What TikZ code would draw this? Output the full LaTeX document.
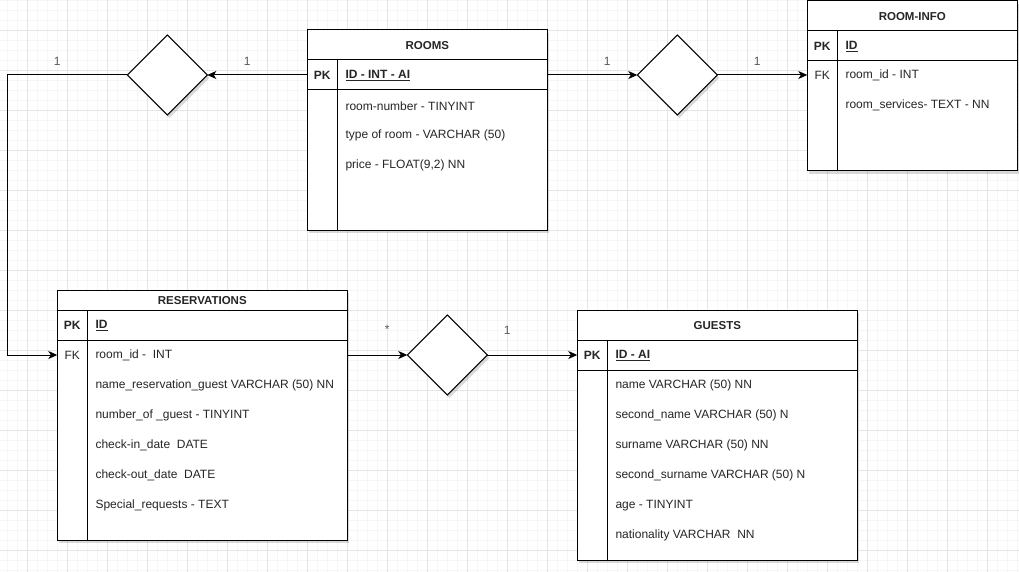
\documentclass[tikz,border=0pt]{standalone}
\usepackage{fontspec}
\setmainfont{Liberation Sans}
\usetikzlibrary{shapes.geometric,arrows.meta,shadows}
\begin{document}
\begin{tikzpicture}[x=1pt,y=-1pt,
  every node/.style={font=\fontsize{12}{14}\selectfont, text=black!85, inner sep=0pt},
  txt/.style={yshift=-0.8pt},
  minorgrid/.style={draw=black!3.5, line width=0.6pt},
  majorgrid/.style={draw=black!10, line width=0.8pt},
  shad/.style={drop shadow={shadow xshift=2pt,shadow yshift=-3pt,opacity=0.15,fill=black}},
  tbl/.style={draw=black, line width=1pt, fill=white, rectangle, anchor=north west, outer sep=0pt, shad},
  rel/.style={draw=black, line width=1pt, fill=white, diamond, minimum width=80pt, minimum height=80pt, outer sep=0pt, shad},
  hdr/.style={txt, font=\fontsize{11.5}{14}\selectfont\bfseries},
  keyb/.style={txt, font=\fontsize{12}{14}\selectfont\bfseries},
  keyr/.style={txt},
  fld/.style={txt, anchor=west},
  fldb/.style={txt, anchor=west, font=\fontsize{12}{14}\selectfont\bfseries},
  sep/.style={line width=1pt},
  conn/.style={line width=1pt, -{Stealth[length=9pt,width=8pt,inset=2.5pt]}},
  card/.style={txt, text=black!65}
]
\useasboundingbox (0,0) rectangle (1019,572);
\fill[white] (0,0) rectangle (1019,572);
% grid
\foreach \i in {0,...,101} \draw[minorgrid] ({7.3+10*\i},0) -- ({7.3+10*\i},572);
\foreach \j in {0,...,57} \draw[minorgrid] (0,{10*\j}) -- (1019,{10*\j});
\foreach \i in {0,...,24} \draw[majorgrid] ({27.3+40*\i},0) -- ({27.3+40*\i},572);
\foreach \j in {0,...,13} \draw[majorgrid] (0,{30+40*\j}) -- (1019,{30+40*\j});

% ROOMS
\node[tbl, minimum width=240pt, minimum height=200pt] (rooms) at (307.3,30) {};
\draw[sep] (307.3,60) -- (547.3,60);
\draw[sep] (307.3,90) -- (547.3,90);
\draw[sep] (337.3,60) -- (337.3,230);
\node[hdr] (roomsT) at (427.3,45) {ROOMS};
\node[keyb] (roomsPK) at (322.3,75) {PK};
\node[fldb] (roomsId) at (345.3,75) {\underline{ID - INT - AI}};
\node[fld] (roomsF1) at (345.3,105) {room-number - TINYINT};
\node[fld] (roomsF2) at (345.3,135) {type of room - VARCHAR (50)};
\node[fld] (roomsF3) at (345.3,165) {price - FLOAT(9,2) NN};
\coordinate (roomsRow) at (322.3,75);

% ROOM-INFO
\node[tbl, minimum width=210pt, minimum height=170pt] (info) at (807.3,0.8) {};
\draw[sep] (807.3,30.7) -- (1017.3,30.7);
\draw[sep] (807.3,60.7) -- (1017.3,60.7);
\draw[sep] (837.3,30.7) -- (837.3,170.8);
\node[hdr] (infoT) at (912.3,16) {ROOM-INFO};
\node[keyb] (infoPK) at (822.3,46) {PK};
\node[fldb] (infoId) at (845.3,46) {\underline{ID}};
\node[keyr] (infoFK) at (822.3,75) {FK};
\node[fld] (infoF1) at (845.3,75) {room\_id - INT};
\node[fld] (infoF2) at (845.3,105) {room\_services- TEXT - NN};
\coordinate (infoRow) at (822.3,75);

% RESERVATIONS
\node[tbl, minimum width=290pt, minimum height=250pt] (resv) at (57.3,290) {};
\draw[sep] (57.3,310) -- (347.3,310);
\draw[sep] (57.3,340) -- (347.3,340);
\draw[sep] (87.3,310) -- (87.3,540);
\node[hdr] (resvT) at (202.3,300) {RESERVATIONS};
\node[keyb] (resvPK) at (72.3,325) {PK};
\node[fldb] (resvId) at (95.3,325) {\underline{ID}};
\node[keyr] (resvFK) at (72.3,355) {FK};
\node[fld] (resvF1) at (95.3,355) {room\_id - \ INT};
\node[fld] (resvF2) at (95.3,385) {name\_reservation\_guest VARCHAR (50) NN};
\node[fld] (resvF3) at (95.3,415) {number\_of \_guest - TINYINT};
\node[fld] (resvF4) at (95.3,445) {check-in\_date \ DATE};
\node[fld] (resvF5) at (95.3,475) {check-out\_date \ DATE};
\node[fld] (resvF6) at (95.3,505) {Special\_requests - TEXT};
\coordinate (resvRow) at (72.3,355);

% GUESTS
\node[tbl, minimum width=280pt, minimum height=250pt] (guests) at (577.3,310) {};
\draw[sep] (577.3,340) -- (857.3,340);
\draw[sep] (577.3,370) -- (857.3,370);
\draw[sep] (607.3,340) -- (607.3,560);
\node[hdr] (guestsT) at (717.3,325) {GUESTS};
\node[keyb] (guestsPK) at (592.3,355) {PK};
\node[fldb] (guestsId) at (615.3,355) {\underline{ID - AI}};
\node[fld] (guestsF1) at (615.3,385) {name VARCHAR (50) NN};
\node[fld] (guestsF2) at (615.3,415) {second\_name VARCHAR (50) N};
\node[fld] (guestsF3) at (615.3,445) {surname VARCHAR (50) NN};
\node[fld] (guestsF4) at (615.3,475) {second\_surname VARCHAR (50) N};
\node[fld] (guestsF5) at (615.3,505) {age - TINYINT};
\node[fld] (guestsF6) at (615.3,535) {nationality VARCHAR \ NN};
\coordinate (guestsRow) at (592.3,355);

% relationship diamonds
\node[rel] (d1) at (167.3,75) {};
\node[rel] (d2) at (677.3,75) {};
\node[rel] (d3) at (447.3,355) {};

% connectors
\coordinate (bend) at (7.3,75);
\draw[conn] (rooms.west |- roomsRow) -- (d1.east);
\draw[conn] (d1.west) -- (bend) |- (resv.west |- resvRow);
\draw[conn] (rooms.east |- roomsRow) -- (d2.west);
\draw[conn] (d2.east) -- (info.west |- infoRow);
\draw[conn] (resv.east |- resvRow) -- (d3.west);
\draw[conn] (d3.east) -- (guests.west |- guestsRow);

% cardinalities
\node[card] (c1) at (57.3,61) {1};
\node[card] (c2) at (247.3,61) {1};
\node[card] (c3) at (607.3,61) {1};
\node[card] (c4) at (757.3,61) {1};
\node[card] (c5) at (387.3,329) {*};
\node[card] (c6) at (507.3,330) {1};
\end{tikzpicture}
\end{document}
